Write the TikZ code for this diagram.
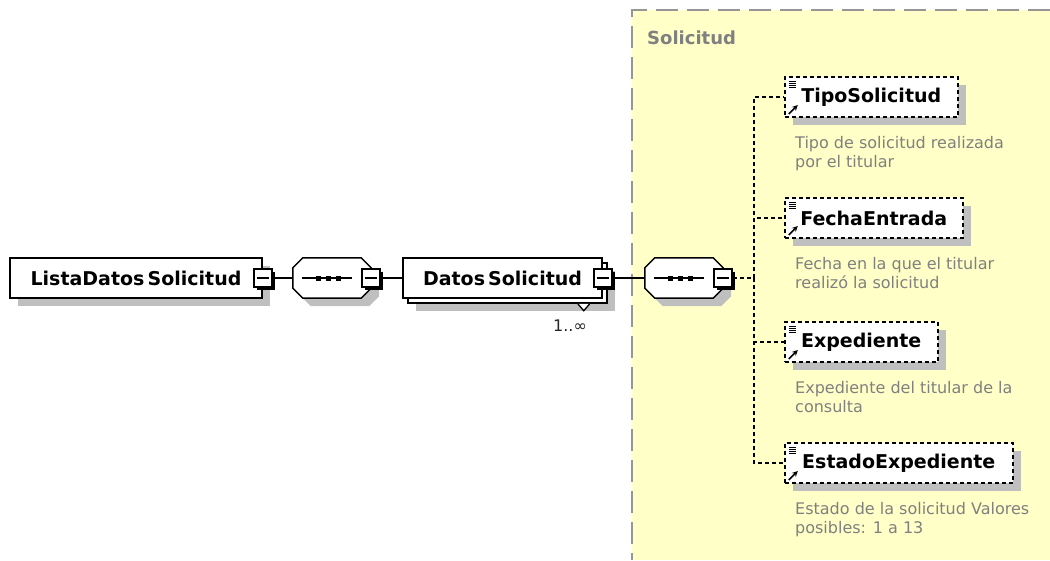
\documentclass[tikz,border=0pt]{standalone}
\usepackage{fontspec}
\setmainfont{DejaVu Sans}
\usepackage{tikz}
\usetikzlibrary{shapes,arrows,calc,positioning,shadows}

\definecolor{groupfill}{RGB}{255,255,200}
\definecolor{groupline}{RGB}{150,150,150}
\definecolor{desctext}{RGB}{128,128,128}

\begin{document}
\begin{tikzpicture}[%
>=stealth,
x=1pt, y=-1pt,
every node/.style={inner sep=0pt},
box/.style={draw, fill=white, line width=1.5pt, minimum height=40pt,
  font=\bfseries\fontsize{19}{21}\selectfont},
shade/.style={drop shadow={shadow xshift=8pt, shadow yshift=-8pt, fill=black!25, opacity=1}},
minus/.style={draw, fill=white, line width=1.5pt, minimum size=18pt,
  drop shadow={shadow xshift=3pt, shadow yshift=-3pt, fill=black, opacity=1},
  path picture={\draw[line width=1.3pt] ($(path picture bounding box.center)+(-6,0)$) -- ++(12,0);}},
seq/.style={minimum width=78pt, minimum height=40pt},
elem/.style={box, dashed, dash pattern=on 4pt off 3pt, anchor=west, shade,
  path picture={
    \foreach \dy in {4,6,8,10}
      \draw[line width=0.8pt, solid] ($(path picture bounding box.north west)+(4,\dy)$) -- ++(7,0);
    \draw[->, line width=1.5pt, solid] ($(path picture bounding box.north west)+(4,37)$) -- ++(9,-9);}},
desc/.style={align=left, text=desctext, font=\fontsize{16}{19}\selectfont},
dline/.style={line width=1.3pt, dash pattern=on 4pt off 3pt}
]
\useasboundingbox (0,0) rectangle (1050,560);

% group background
\fill[groupfill] (632,10) rectangle (1050,560);
\draw[groupline, line width=2pt, dash pattern=on 22pt off 9pt] (1050,10) -- (632,10) -- (632,560);
\node[anchor=west, text=desctext, font=\bfseries\fontsize{18}{20}\selectfont] (grouplabel) at (647,38) {Solicitud};

% left chain
\node[box, shade, minimum width=252pt] (lista) at (136,278) {ListaDatos\,Solicitud\hspace{8pt}};
\node[minus] (listaminus) at (lista.east) {};
\node[seq] (seqa) at (332,278) {};
\node[seq] (seqb) at (684,278) {};
\foreach \s in {seqa,seqb} {
  \draw[fill=white, line width=1.5pt, shade]
    ($(\s.north west)+(10,0)$) -- ($(\s.north east)+(-10,0)$) -- ($(\s.north east)+(0,10)$)
    -- ($(\s.south east)+(0,-10)$) -- ($(\s.south east)+(-10,0)$) -- ($(\s.south west)+(10,0)$)
    -- ($(\s.south west)+(0,-10)$) -- ($(\s.north west)+(0,10)$) -- cycle;
  \draw[line width=1.3pt] ($(\s.center)+(-30,0)$) -- ++(50,0);
  \foreach \dx in {-14,-4,6}
    \fill[black] ($(\s.center)+(\dx,0)$) +(-2.5,-2.5) rectangle +(2.5,2.5);
}
\node[minus] (seqaminus) at (seqa.east) {};
\node[minus] (seqbminus) at (seqb.east) {};
\node[box, shade, minimum width=199pt] (datosback) at (507.5,283) {};
\node[box, minimum width=199pt] (datos) at (502.5,278) {Datos\,Solicitud\hspace{9pt}};
\node[minus] (datosminus) at (datos.east) {};
\fill[white, draw=black, line width=1.3pt] ($(datosback.south east)+(-30,0)$) -- ++(6,7) -- ++(6,-7);
\node[font=\fontsize{16}{18}\selectfont, text=black!85] (datosocc) at (570,326) {1..∞};

% children
\node[elem, minimum width=173pt] (tipo) at (784,97) {TipoSolicitud};
\node[elem, minimum width=178pt] (fecha) at (784,218) {FechaEntrada};
\node[elem, minimum width=153pt] (expediente) at (784,342) {Expediente};
\node[elem, minimum width=228pt] (estado) at (784,463) {EstadoExpediente};

\node[desc, below right=18pt and 11pt of tipo.south west] (tipodesc) {Tipo de solicitud realizada\\por el titular};
\node[desc, below right=18pt and 11pt of fecha.south west] (fechadesc) {Fecha en la que el titular\\realizó la solicitud};
\node[desc, below right=18pt and 11pt of expediente.south west] (expedientedesc) {Expediente del titular de la\\consulta};
\node[desc, below right=18pt and 11pt of estado.south west] (estadodesc) {Estado de la solicitud Valores\\posibles: 1 a 13};

% connectors
\coordinate (branch) at (754,278);
\draw[line width=1.3pt] (listaminus.east) -- (seqa.west);
\draw[line width=1.3pt] (seqaminus.east) -- (datos.west);
\draw[line width=1.3pt] (datosminus.east) -- (seqb.west);
\draw[dline] (seqbminus.east) -- (branch);
\draw[dline] (branch) |- (tipo.west);
\draw[dline] (branch) |- (fecha.west);
\draw[dline] (branch) |- (expediente.west);
\draw[dline] (branch) |- (estado.west);
\end{tikzpicture}
\end{document}
